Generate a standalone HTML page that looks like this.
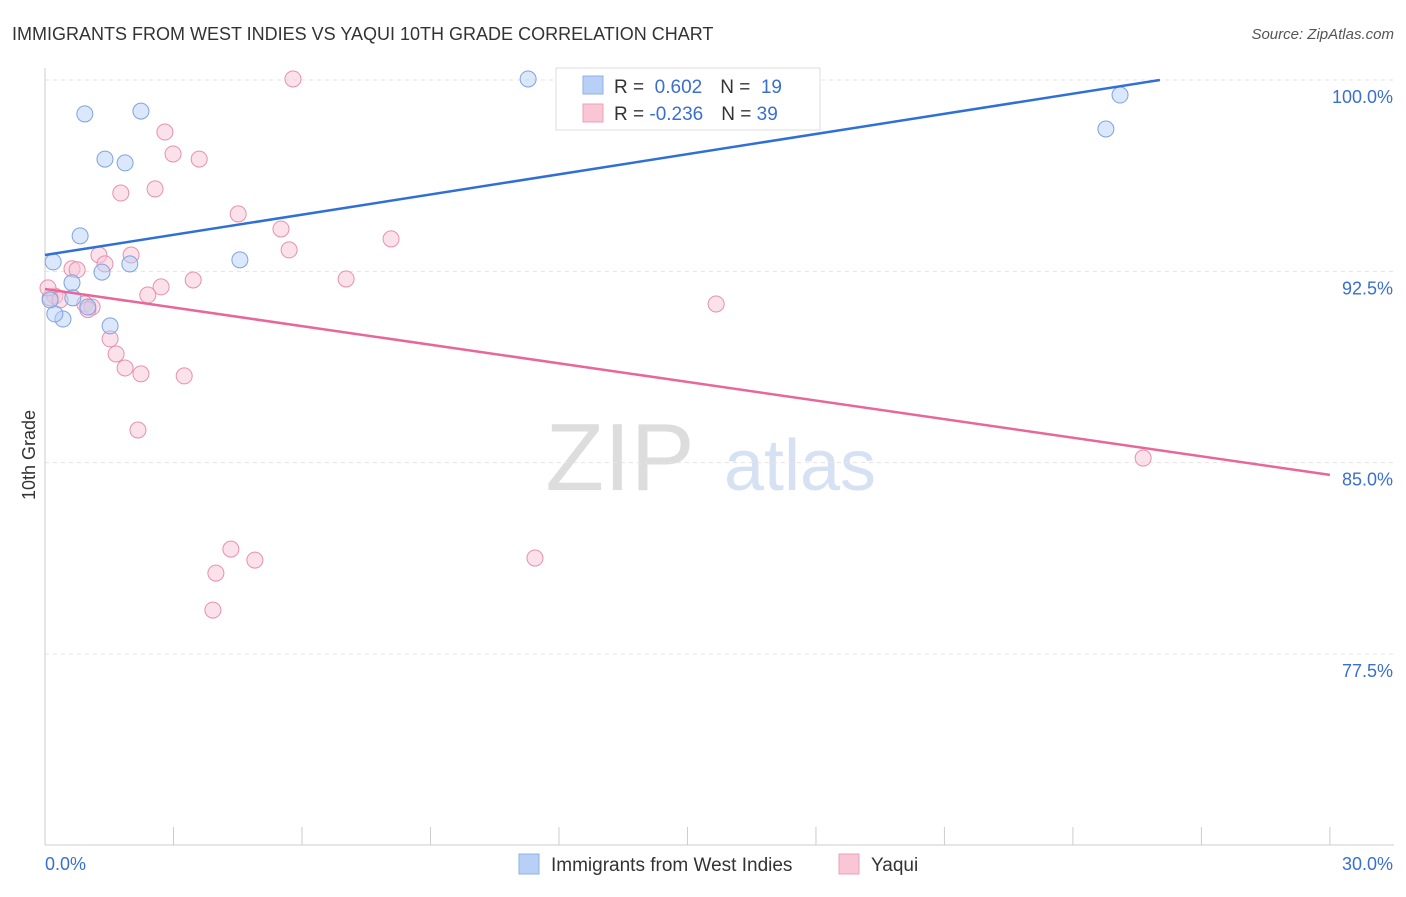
<!DOCTYPE html>
<html><head><meta charset="utf-8"><style>
body{margin:0;background:#fff;font-family:"Liberation Sans",sans-serif;}
svg text{font-family:"Liberation Sans",sans-serif;}
</style></head><body>
<svg id="chart" width="1406" height="892">
<text x="12" y="40" font-size="18" fill="#333">IMMIGRANTS FROM WEST INDIES VS YAQUI 10TH GRADE CORRELATION CHART</text>
<text x="1394" y="39" font-size="15" fill="#555" font-style="italic" text-anchor="end">Source: ZipAtlas.com</text>
<text x="35" y="455" font-size="18" fill="#333" transform="rotate(-90 35 455)" text-anchor="middle">10th Grade</text>
<text x="620" y="490" font-size="96" fill="#ddd" font-family="Liberation Serif" text-anchor="middle">ZIP</text>
<text x="800" y="490" font-size="72" fill="#d6e2f3" text-anchor="middle">atlas</text>
<g id="grid"></g><g id="axes"></g><g id="marks"></g>
<g>
<rect x="556" y="68" width="264" height="62" fill="#fff" stroke="#ddd"/>
<rect x="583" y="76" width="20" height="18" fill="#b8d0f5" stroke="#8fb0e6"/>
<text x="614" y="93" font-size="19" fill="#333">R = <tspan fill="#3a6fd0">&#160;0.602</tspan><tspan dx="18">N = </tspan><tspan fill="#3a6fd0">&#160;19</tspan></text>
<rect x="583" y="104" width="20" height="18" fill="#f8c6d5" stroke="#eca0b8"/>
<text x="614" y="120" font-size="19" fill="#333">R = <tspan fill="#3a6fd0">-0.236</tspan><tspan dx="18">N = </tspan><tspan fill="#3a6fd0">39</tspan></text>
</g>
<g>
<rect x="519" y="854" width="20" height="20" fill="#b8d0f5" stroke="#8fb0e6"/>
<text x="551" y="871" font-size="19" fill="#333">Immigrants from West Indies</text>
<rect x="839" y="854" width="20" height="20" fill="#f8c6d5" stroke="#eca0b8"/>
<text x="871" y="871" font-size="19" fill="#333">Yaqui</text>
</g>
</svg>
<script>
const yTicks=[100,92.5,85,77.5];
const yTickLabels=["100.0%","92.5%","85.0%","77.5%"];
const xTickCount=[0,3,6,9,12,15,18,21,24,27,30];
const blueX=[0.19,0.93,2.24,1.40,1.87,0.82,0.63,1.33,1.98,0.65,1.00,1.52,0.42,0.23,4.55,11.28,24.77,25.10,0.12];
const blueY=[92.87,98.67,98.78,96.90,96.75,93.89,92.05,92.47,92.79,91.46,91.10,90.36,90.63,90.83,92.95,100.04,98.08,99.41,91.38];
const pinkX=[5.79,2.80,2.99,3.60,1.77,2.57,4.51,5.51,5.70,8.08,1.26,2.01,1.40,0.63,0.75,7.03,3.46,2.71,2.40,0.23,0.12,0.93,1.10,1.52,1.66,1.87,2.24,3.25,2.17,4.34,4.90,3.99,3.92,11.44,15.67,25.64,0.35,0.07,1.00];
const pinkY=[100.04,97.96,97.10,96.90,95.57,95.73,94.75,94.16,93.34,93.77,93.14,93.14,92.79,92.60,92.56,92.20,92.16,91.89,91.57,91.53,91.46,91.22,91.10,89.85,89.26,88.71,88.48,88.40,86.28,81.61,81.18,80.67,79.22,81.26,91.22,85.18,91.38,91.85,91.00];
const blueLine=[[0,93.14],[26.03,100]];
const pinkLine=[[0,91.81],[30,84.52]];
const X=v=>45+v*42.83, Y=v=>80+(100-v)*25.51;
const NS="http://www.w3.org/2000/svg";
function mk(t,a,p){const e=document.createElementNS(NS,t);for(const k in a)e.setAttribute(k,a[k]);p.appendChild(e);return e;}
const grid=document.getElementById('grid'),axes=document.getElementById('axes'),marks=document.getElementById('marks');
yTicks.forEach((t,i)=>{
 const l=mk('line',{x1:45,x2:1394,y1:Y(t),y2:Y(t),stroke:'#e4e4e4','stroke-dasharray':'4,4'},grid);
 
 
 const tx=mk('text',{x:1393,y:Y(t)+23,'font-size':18,fill:'#3a6fd0','text-anchor':'end'},axes);
 tx.textContent=yTickLabels[i];
 
 
});
let a=mk('line',{x1:45,x2:45,y1:68,y2:845,stroke:'#ccc'},axes);

a=mk('line',{x1:45,x2:1394,y1:845,y2:845,stroke:'#ccc'},axes);

xTickCount.forEach(t=>{const l=mk('line',{x1:X(t),x2:X(t),y1:827,y2:845,stroke:'#ccc'},axes);
 
 });
[["0.0%",45,'start'],["30.0%",1393,'end']].forEach(d=>{const t=mk('text',{x:d[1],y:870,'font-size':18,fill:'#3a6fd0','text-anchor':d[2]},axes);t.textContent=d[0];
 
 });
function pts(xs,ys,fill,stroke,name){xs.forEach((x,i)=>{const c=mk('circle',{cx:X(x),cy:Y(ys[i]),r:8,fill:fill,stroke:stroke,'stroke-width':1,'fill-opacity':0.5},marks);
 
 });}
pts(pinkX,pinkY,'#f8c6d5','#e890ac','yaqui-point');
pts(blueX,blueY,'#b8d0f5','#7ea3de','west-indies-point');
let tl=mk('line',{x1:X(blueLine[0][0]),y1:Y(blueLine[0][1]),x2:X(blueLine[1][0]),y2:Y(blueLine[1][1]),stroke:'#2f6fd6','stroke-width':2.5},marks);

tl=mk('line',{x1:X(pinkLine[0][0]),y1:Y(pinkLine[0][1]),x2:X(pinkLine[1][0]),y2:Y(pinkLine[1][1]),stroke:'#e8679a','stroke-width':2.5},marks);

</script>
</body></html>
